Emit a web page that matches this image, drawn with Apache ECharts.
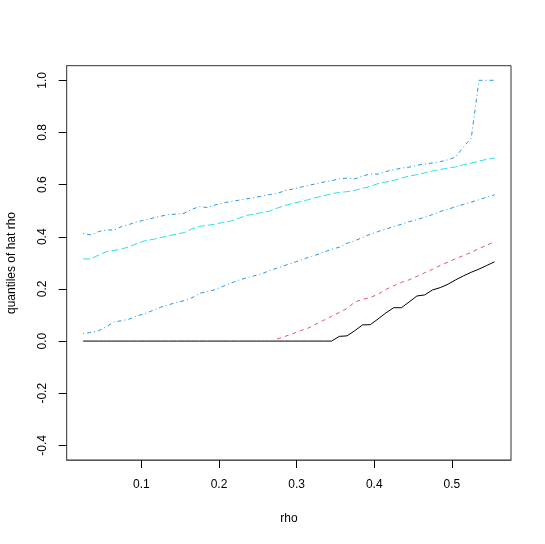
<!DOCTYPE html>
<html>
<head>
<meta charset="utf-8">
<script src="https://cdn.jsdelivr.net/npm/echarts@6/dist/echarts.min.js"></script>
<style>html,body{margin:0;padding:0;background:#fff}#c{width:545px;height:544px}</style>
</head>
<body>
<div id="c"></div>
<script>
const rho = [0.025,0.035,0.045,0.055,0.065,0.075,0.085,0.095,0.105,0.115,0.125,0.135,0.145,0.155,0.165,0.175,0.185,0.195,0.205,0.215,0.225,0.235,0.245,0.255,0.265,0.275,0.285,0.295,0.305,0.315,0.325,0.335,0.345,0.355,0.365,0.375,0.385,0.395,0.405,0.415,0.425,0.435,0.445,0.455,0.465,0.475,0.485,0.495,0.505,0.515,0.525,0.535,0.545,0.555];
const qMin = [0,0,0,0,0,0,0,0,0,0,0,0,0,0,0,0,0,0,0,0,0,0,0,0,0,0,0,0,0,0,0,0,0,0.018,0.02,0.04,0.062,0.063,0.085,0.108,0.128,0.128,0.15,0.173,0.177,0.196,0.205,0.218,0.235,0.25,0.264,0.276,0.29,0.304];
const qRed = [null,null,null,null,null,null,null,null,null,null,null,null,null,null,null,null,null,null,null,null,null,null,null,null,null,0.008,0.018,0.028,0.04,0.05,0.065,0.08,0.095,0.11,0.125,0.15,0.16,0.167,0.18,0.198,0.212,0.225,0.235,0.248,0.262,0.275,0.29,0.303,0.316,0.328,0.34,0.355,0.368,0.381];
const qLow = [0.029,0.033,0.04,0.055,0.074,0.078,0.085,0.097,0.105,0.118,0.13,0.139,0.148,0.155,0.166,0.183,0.19,0.197,0.21,0.222,0.233,0.242,0.25,0.258,0.27,0.28,0.29,0.3,0.31,0.321,0.33,0.341,0.352,0.36,0.375,0.385,0.397,0.41,0.42,0.43,0.439,0.448,0.458,0.466,0.475,0.485,0.497,0.505,0.516,0.524,0.533,0.542,0.552,0.561];
const qMid = [0.315,0.315,0.33,0.343,0.348,0.353,0.363,0.375,0.385,0.39,0.397,0.404,0.41,0.416,0.43,0.44,0.444,0.448,0.455,0.46,0.47,0.482,0.486,0.493,0.498,0.51,0.52,0.528,0.535,0.542,0.55,0.557,0.565,0.57,0.573,0.578,0.586,0.593,0.604,0.61,0.616,0.625,0.633,0.638,0.645,0.652,0.658,0.663,0.668,0.676,0.683,0.69,0.697,0.702];
const qUp = [0.413,0.407,0.42,0.426,0.426,0.44,0.448,0.458,0.464,0.472,0.479,0.485,0.487,0.49,0.505,0.516,0.512,0.522,0.53,0.535,0.54,0.545,0.55,0.556,0.562,0.566,0.577,0.583,0.59,0.597,0.603,0.61,0.615,0.622,0.625,0.622,0.633,0.641,0.64,0.65,0.657,0.663,0.667,0.674,0.679,0.683,0.688,0.695,0.706,0.745,0.778,1.0,1.0,1.0];
const xTicks = [0.1,0.2,0.3,0.4,0.5];
const yTicks = [-0.4,-0.2,0.0,0.2,0.4,0.6,0.8,1.0];
const xTitle = 'rho';
const yTitle = 'quantiles of hat rho';

const pairs = ys => rho.map((x,i)=>[x, ys[i]]);
const font = 'Liberation Sans, Arial, Helvetica, sans-serif';
const mk = (name, ys, color, type) => ({
  name, type:'line', data: pairs(ys), showSymbol:false, symbol:'none',
  connectNulls:false, clip:false,
  lineStyle:{color, width:1, type}
});

const chart = echarts.init(document.getElementById('c'));
chart.setOption({
  animation:false,
  grid:{left:66.7, right:34, top:65.7, bottom:84, show:true, borderColor:'#333', borderWidth:1, outerBoundsMode:'none'},
  xAxis:{
    type:'value', position:'bottom', min:0.0038, max:0.5762,
    axisLine:{show:true, onZero:false},
    axisTick:{show:true, length:8, lineStyle:{color:'#000', width:1}, customValues:xTicks},
    axisLabel:{fontFamily:font, fontSize:12, color:'#000', margin:19, customValues:xTicks, formatter:v=>v.toFixed(1)},
    splitLine:{show:false}
  },
  yAxis:{
    type:'value', position:'left', min:-0.456, max:1.056,
    axisLine:{show:true, onZero:false},
    axisTick:{show:true, length:8, lineStyle:{color:'#000', width:1}, customValues:yTicks},
    axisLabel:{fontFamily:font, fontSize:12, color:'#000', margin:18, rotate:90, customValues:yTicks, formatter:v=>v.toFixed(1)},
    splitLine:{show:false}
  },
  graphic:[
    {type:'text', x:289, y:518.5, silent:true, style:{text:xTitle, font:'12px '+font, fill:'#000', align:'center', verticalAlign:'middle'}},
    {type:'text', x:11.5, y:263, rotation:Math.PI/2, silent:true, style:{text:yTitle, font:'12px '+font, fill:'#000', align:'center', verticalAlign:'middle'}}
  ],
  series:[
    mk('min', qMin, '#000000', 'solid'),
    mk('red', qRed, '#DF536B', [4,4]),
    mk('low', qLow, '#2297E6', [1,3,4,3]),
    mk('mid', qMid, '#28E2E5', [7,3]),
    mk('up', qUp, '#2297E6', [1,3,4,3])
  ]
});
</script>
</body>
</html>
